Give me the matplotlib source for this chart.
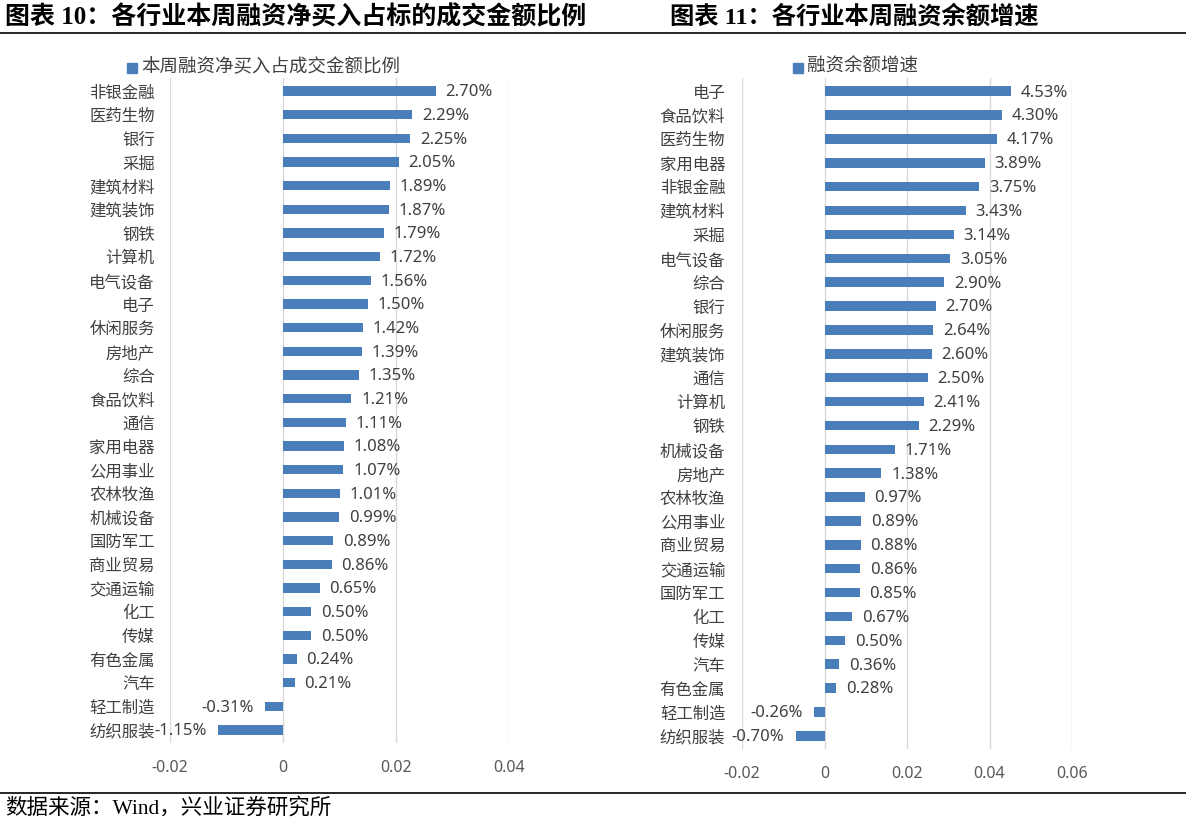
import numpy as np
import matplotlib
matplotlib.use("Agg")
import matplotlib.pyplot as plt
from matplotlib.patches import Rectangle
from matplotlib.ticker import FuncFormatter

plt.rcParams['font.family'] = ['Noto Sans', 'Noto Sans CJK SC', 'DejaVu Sans']
plt.rcParams['axes.unicode_minus'] = False

# ---- data ----
left_cats = ["非银金融", "医药生物", "银行", "采掘", "建筑材料", "建筑装饰", "钢铁", "计算机",
             "电气设备", "电子", "休闲服务", "房地产", "综合", "食品饮料", "通信", "家用电器",
             "公用事业", "农林牧渔", "机械设备", "国防军工", "商业贸易", "交通运输", "化工",
             "传媒", "有色金属", "汽车", "轻工制造", "纺织服装"]
left_vals = [2.70, 2.29, 2.25, 2.05, 1.89, 1.87, 1.79, 1.72, 1.56, 1.50, 1.42, 1.39, 1.35,
             1.21, 1.11, 1.08, 1.07, 1.01, 0.99, 0.89, 0.86, 0.65, 0.50, 0.50, 0.24, 0.21,
             -0.31, -1.15]
left_ticks = [-0.02, 0, 0.02, 0.04]

right_cats = ["电子", "食品饮料", "医药生物", "家用电器", "非银金融", "建筑材料", "采掘",
              "电气设备", "综合", "银行", "休闲服务", "建筑装饰", "通信", "计算机", "钢铁",
              "机械设备", "房地产", "农林牧渔", "公用事业", "商业贸易", "交通运输", "国防军工",
              "化工", "传媒", "汽车", "有色金属", "轻工制造", "纺织服装"]
right_vals = [4.53, 4.30, 4.17, 3.89, 3.75, 3.43, 3.14, 3.05, 2.90, 2.70, 2.64, 2.60, 2.50,
              2.41, 2.29, 1.71, 1.38, 0.97, 0.89, 0.88, 0.86, 0.85, 0.67, 0.50, 0.36, 0.28,
              -0.26, -0.70]
right_ticks = [-0.02, 0, 0.02, 0.04, 0.06]

bar_color = "#4A7EBB"
W, H = 1186, 824

fig = plt.figure(figsize=(11.86, 8.24), dpi=100)


def tick_fmt(v, pos):
    if abs(v) < 1e-12:
        return "0"
    return "%.2f" % v


def draw_panel(rect, cats, vals, ticks, xpad):
    ax = fig.add_axes(rect)
    y = np.arange(len(cats))
    v = np.array(vals) / 100.0
    ax.barh(y, v, height=0.4, color=bar_color, zorder=3)
    for yi, vi, raw in zip(y, v, vals):
        if vi >= 0:
            ax.annotate("%.2f%%" % raw, (vi, yi), xytext=(7, -1), textcoords="offset points",
                        ha="left", va="center", fontsize=12, color="#404040", zorder=4)
        else:
            ax.annotate("%.2f%%" % raw, (vi, yi), xytext=(-8, -1), textcoords="offset points",
                        ha="right", va="center", fontsize=12, color="#404040", zorder=4)
    ax.set_xlim(ticks[0], ticks[-1])
    ax.set_ylim(len(cats) - 0.45, -0.55)
    ax.set_xticks(ticks)
    ax.xaxis.set_major_formatter(FuncFormatter(tick_fmt))
    ax.set_yticks(y)
    ax.set_yticklabels(cats, family=['Noto Sans CJK SC'], fontsize=11.8, color="#404040")
    ax.tick_params(axis="y", length=0, pad=xpad)
    ax.tick_params(axis="x", length=0, pad=12, labelsize=11.5, labelcolor="#595959")
    for s in ax.spines.values():
        s.set_visible(False)
    ax.grid(axis="x", color="#D9D9D9", linewidth=1, zorder=0)
    ax.set_facecolor("none")
    return ax


draw_panel([170 / W, 1 - 743 / H, 339 / W, 665 / H], left_cats, left_vals, left_ticks, 11)
draw_panel([742 / W, 1 - 749 / H, 330 / W, 671 / H], right_cats, right_vals, right_ticks, 12)

# legends
fig.add_artist(Rectangle((127 / W, 1 - 73 / H), 10 / W, 10 / H, transform=fig.transFigure,
                         color=bar_color))
fig.text(141 / W, 1 - 67 / H, "本周融资净买入占成交金额比例", family=['Noto Sans CJK SC'],
         fontsize=13.3, color="#404040", va="center", ha="left")
fig.add_artist(Rectangle((793 / W, 1 - 73 / H), 10 / W, 10 / H, transform=fig.transFigure,
                         color=bar_color))
fig.text(807 / W, 1 - 67 / H, "融资余额增速", family=['Noto Sans CJK SC'],
         fontsize=13.3, color="#404040", va="center", ha="left")

# titles and rules
fig.text(5 / W, 1 - 17 / H, "图表 10：各行业本周融资净买入占标的成交金额比例",
         family=['Liberation Serif', 'Noto Sans CJK SC'], fontsize=18, fontweight="bold",
         va="center", ha="left", color="black")
fig.text(670 / W, 1 - 17 / H, "图表 11：各行业本周融资余额增速",
         family=['Liberation Serif', 'Noto Sans CJK SC'], fontsize=17.5, fontweight="bold",
         va="center", ha="left", color="black")
fig.add_artist(plt.Line2D([0, 1], [1 - 33 / H, 1 - 33 / H], transform=fig.transFigure,
                          color="black", linewidth=1.2))
fig.add_artist(plt.Line2D([0, 1], [1 - 793 / H, 1 - 793 / H], transform=fig.transFigure,
                          color="black", linewidth=1.2))
fig.text(5 / W, 1 - 808 / H, "数据来源：Wind，兴业证券研究所",
         family=['Liberation Serif', 'Noto Sans CJK SC'], fontsize=15.5,
         va="center", ha="left", color="black")

fig.savefig("out.png", dpi=100, facecolor="white")
